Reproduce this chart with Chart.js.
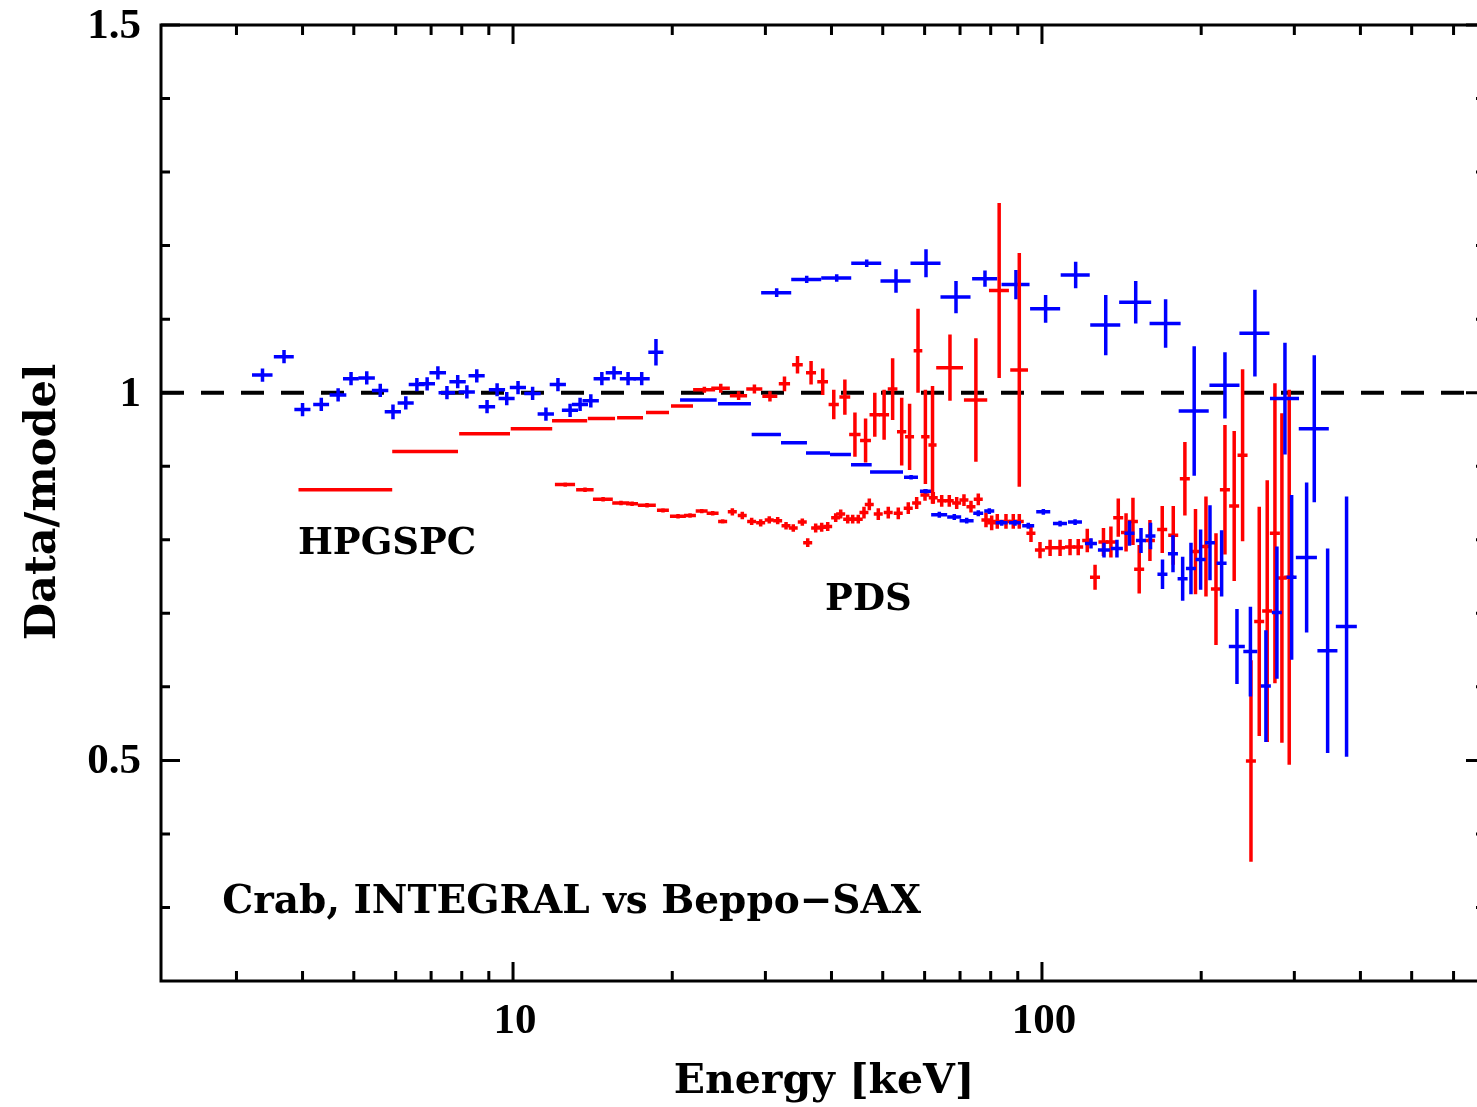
<!DOCTYPE html>
<html>
<head>
<meta charset="utf-8">
<script src="https://cdn.jsdelivr.net/npm/chart.js@4.4.1/dist/chart.umd.min.js"></script>
<style>
  html, body { margin: 0; padding: 0; background: #fff; overflow: hidden; }
  #wrap { position: relative; width: 1495px; height: 1107px; }
</style>
</head>
<body>
<div id="wrap"><canvas id="grafico"></canvas></div>
<script>
// JEM-X (blue crosses, 3-20 keV)
const jemxE   = [3.36, 3.69, 4.00, 4.34, 4.67, 4.94, 5.29, 5.61, 5.93, 6.27, 6.58, 6.88, 7.21, 7.50, 7.86, 8.18,
                 8.54, 8.93, 9.33, 9.73, 10.22, 10.89, 11.54, 12.16, 12.82, 13.39, 14.03, 14.72, 15.52, 16.50, 17.51, 18.63];
const jemxdE  = [0.15, 0.16, 0.14, 0.15, 0.17, 0.17, 0.19, 0.20, 0.21, 0.22, 0.23, 0.24, 0.26, 0.27, 0.28, 0.29,
                 0.30, 0.32, 0.33, 0.34, 0.36, 0.39, 0.41, 0.43, 0.45, 0.47, 0.50, 0.52, 0.55, 0.58, 0.62, 0.61];
const jemxR   = [1.024, 1.049, 0.977, 0.984, 0.997, 1.019, 1.020, 1.003, 0.974, 0.986, 1.011, 1.012, 1.027, 1.000, 1.015, 1.001,
                 1.023, 0.981, 1.004, 0.992, 1.007, 0.999, 0.971, 1.011, 0.976, 0.984, 0.989, 1.019, 1.027, 1.019, 1.019, 1.055];
const jemxErr = [0.009, 0.009, 0.009, 0.009, 0.009, 0.009, 0.009, 0.009, 0.010, 0.009, 0.009, 0.009, 0.009, 0.009, 0.009, 0.009,
                 0.009, 0.009, 0.009, 0.009, 0.009, 0.009, 0.009, 0.009, 0.009, 0.009, 0.009, 0.009, 0.009, 0.009, 0.009, 0.018];

// HPGSPC (red, 4-95 keV)
const hpgE   = [4.92, 6.89, 8.89, 10.88, 12.83, 14.72, 16.67, 18.78, 20.89, 23.0, 24.7, 26.7, 28.6, 30.6, 32.6, 34.5, 36.6,
                38.5, 40.4, 42.4, 44.3, 46.4, 48.3, 50.3, 52.2, 54.3, 56.2, 58.3, 60.2, 62.1, 67.0, 75.0, 83.0, 90.6];
const hpgdE  = [0.99, 0.98, 0.98, 0.98, 0.98, 0.87, 0.94, 0.94, 1.0, 1.1, 1.0, 1.0, 1.0, 1.0, 0.8, 0.8, 0.8,
                0.9, 0.9, 1.0, 1.1, 1.1, 1.1, 1.1, 1.1, 1.1, 1.1, 1.1, 1.1, 1.1, 3.9, 3.8, 3.6, 3.5];
const hpgR   = [0.868, 0.920, 0.944, 0.951, 0.962, 0.965, 0.966, 0.973, 0.982, 1.004, 1.006, 0.996, 1.005, 0.995, 1.012, 1.038, 1.027,
                1.015, 0.984, 0.994, 0.943, 0.935, 0.970, 0.970, 1.005, 0.947, 0.940, 1.057, 0.940, 0.929, 1.034, 0.990, 1.139, 1.031];
const hpgErr = [0.002, 0.001, 0.001, 0.001, 0.001, 0.002, 0.002, 0.002, 0.002, 0.004, 0.006, 0.006, 0.006, 0.007, 0.010, 0.012, 0.016,
                0.018, 0.020, 0.024, 0.030, 0.030, 0.030, 0.034, 0.042, 0.046, 0.045, 0.057, 0.064, 0.080, 0.045, 0.084, 0.119, 0.159];

// PDS (red, 12-300 keV)
const pdsE   = [12.55, 13.68, 14.80, 16.00, 16.79, 17.92, 19.21, 20.51, 21.61, 22.74,
                23.85, 24.91, 25.98, 27.13, 28.26, 29.39, 30.51, 31.65, 32.82, 33.87,
                35.23, 36.07, 37.34, 38.33, 39.35, 40.74, 41.64, 42.93, 43.87, 44.95,
                46.08, 47.16, 49.04, 51.22, 53.50, 55.88, 57.96, 60.10, 62.31, 64.63,
                66.80, 68.99, 71.21, 73.42, 75.79, 78.37, 80.34, 82.32, 85.50, 88.26,
                90.60, 95.33, 99.14, 103.6, 108.2, 113.0, 117.1, 121.8, 126.0, 130.7,
                135.0, 139.4, 144.2, 148.6, 152.7, 160.0, 168.8, 177.1, 186.3, 195.1,
                204.2, 213.3, 221.8, 230.9, 239.5, 248.4, 257.5, 266.6, 275.7, 284.2, 293.4];
const pdsdE  = [0.55, 0.52, 0.64, 0.60, 0.44, 0.70, 0.50, 0.71, 0.56, 0.59,
                0.62, 0.49, 0.51, 0.53, 0.55, 0.58, 0.60, 0.62, 0.64, 0.66,
                0.69, 0.71, 0.73, 0.75, 0.77, 0.80, 0.82, 0.84, 0.86, 0.88,
                0.90, 0.92, 0.96, 1.00, 1.05, 1.10, 1.14, 1.18, 1.22, 1.27,
                1.31, 1.35, 1.40, 1.44, 1.49, 1.54, 1.57, 1.61, 1.68, 1.73,
                1.78, 1.87, 2.16, 2.26, 2.36, 2.46, 2.55, 2.66, 2.75, 2.85,
                2.94, 3.04, 3.14, 3.24, 3.33, 3.49, 3.68, 3.86, 4.06, 4.25,
                4.45, 4.65, 4.84, 5.03, 5.22, 5.42, 5.61, 5.81, 6.01, 6.20, 6.40];
const pdsR   = [0.875, 0.868, 0.855, 0.850, 0.849, 0.847, 0.840, 0.832, 0.833, 0.839,
                0.836, 0.825, 0.838, 0.833, 0.825, 0.823, 0.827, 0.826, 0.819, 0.816,
                0.824, 0.796, 0.816, 0.817, 0.818, 0.830, 0.835, 0.828, 0.828, 0.828,
                0.837, 0.848, 0.835, 0.837, 0.836, 0.843, 0.850, 0.861, 0.857, 0.853,
                0.853, 0.850, 0.854, 0.845, 0.855, 0.827, 0.823, 0.825, 0.825, 0.825,
                0.825, 0.809, 0.786, 0.789, 0.789, 0.790, 0.790, 0.799, 0.749, 0.797,
                0.797, 0.830, 0.810, 0.825, 0.760, 0.799, 0.814, 0.806, 0.883, 0.784,
                0.791, 0.733, 0.868, 0.846, 0.915, 0.499, 0.689, 0.703, 0.809, 0.748, 0.749];
const pdsErr = [0.003, 0.003, 0.003, 0.003, 0.003, 0.003, 0.003, 0.003, 0.003, 0.003,
                0.003, 0.003, 0.005, 0.005, 0.005, 0.005, 0.005, 0.005, 0.005, 0.005,
                0.005, 0.006, 0.006, 0.006, 0.006, 0.006, 0.006, 0.006, 0.006, 0.006,
                0.008, 0.008, 0.008, 0.008, 0.008, 0.008, 0.008, 0.008, 0.008, 0.008,
                0.008, 0.008, 0.008, 0.008, 0.008, 0.010, 0.010, 0.010, 0.010, 0.010,
                0.010, 0.012, 0.011, 0.011, 0.011, 0.011, 0.011, 0.016, 0.017, 0.019,
                0.021, 0.026, 0.026, 0.032, 0.033, 0.028, 0.032, 0.040, 0.050, 0.058,
                0.068, 0.076, 0.088, 0.102, 0.117, 0.137, 0.156, 0.178, 0.204, 0.224, 0.255];

// blue high points (30-330 keV)
const spiE   = [31.51, 35.91, 40.92, 46.63, 52.97, 60.36, 68.78, 78.03, 89.30, 101.6,
                115.8, 132.0, 150.4, 171.3, 194.0, 221.8, 252.7, 288.0, 327.2];
const spidE  = [2.06, 2.34, 2.67, 3.04, 3.46, 3.94, 4.49, 4.25, 5.44, 6.64,
                7.31, 8.62, 10.47, 11.56, 12.67, 14.48, 16.5, 18.18, 21.37];
const spiR   = [1.136, 1.154, 1.156, 1.176, 1.152, 1.176, 1.130, 1.155, 1.147, 1.114,
                1.160, 1.092, 1.123, 1.094, 0.975, 1.010, 1.081, 0.992, 0.951];
const spiErr = [0.006, 0.005, 0.005, 0.005, 0.016, 0.019, 0.022, 0.011, 0.020, 0.019,
                0.018, 0.041, 0.029, 0.033, 0.088, 0.045, 0.059, 0.076, 0.100];

// blue low points (20-380 keV)
const isgE   = [22.48, 26.29, 30.18, 34.03, 37.77, 41.64, 45.6, 50.96, 56.57, 60.33,
                63.96, 68.27, 72.06, 75.79, 79.51, 83.92, 88.92, 94.21, 100.6, 108.2,
                115.5, 123.8, 131.0, 138.6, 146.4, 153.9, 160.4, 169.0, 176.9, 184.5,
                191.3, 199.5, 207.8, 218.6, 233.7, 247.8, 265.1, 278.1, 296.5, 316.5, 346.8, 376.6];
const isgdE  = [1.79, 1.88, 1.92, 1.92, 1.97, 1.9, 2.05, 3.65, 1.72, 1.54,
                2.23, 2.08, 2.2, 1.65, 1.73, 2.19, 2.32, 2.46, 3.07, 3.3,
                3.52, 3.23, 3.42, 3.62, 3.19, 3.35, 3.49, 3.68, 3.85, 4.02,
                4.16, 4.34, 4.52, 4.76, 8.14, 7.55, 5.77, 6.05, 6.45, 14.5, 15.1, 17.2];
const isgR   = [0.990, 0.985, 0.943, 0.932, 0.918, 0.916, 0.902, 0.892, 0.885, 0.866,
                0.834, 0.831, 0.826, 0.836, 0.839, 0.823, 0.823, 0.819, 0.838, 0.822,
                0.824, 0.795, 0.786, 0.788, 0.809, 0.799, 0.805, 0.753, 0.781, 0.747,
                0.761, 0.773, 0.796, 0.768, 0.655, 0.648, 0.601, 0.701, 0.749, 0.776, 0.649, 0.682];
const isgErr = [0.002, 0.002, 0.002, 0.002, 0.002, 0.002, 0.002, 0.002, 0.003, 0.003,
                0.004, 0.004, 0.004, 0.004, 0.004, 0.004, 0.004, 0.004, 0.004, 0.004,
                0.004, 0.007, 0.010, 0.012, 0.017, 0.017, 0.018, 0.020, 0.025, 0.030,
                0.035, 0.041, 0.051, 0.045, 0.051, 0.061, 0.076, 0.090, 0.112, 0.102, 0.139, 0.177];

// axes
const xMin = 2.16, xMax = 688;
const yMin = 0.2, yMax = 1.5;
const xMajor = [10, 100];
const xMajorLabels = ['10', '100'];
const xMinor = [3, 4, 5, 6, 7, 8, 9, 20, 30, 40, 50, 60, 70, 80, 90, 200, 300, 400, 500, 600];
const yMajor = [0.5, 1, 1.5];
const yMajorLabels = ['0.5', '1', '1.5'];
const yMinor = [0.3, 0.4, 0.6, 0.7, 0.8, 0.9, 1.1, 1.2, 1.3, 1.4];

// text inside the plot, in data coordinates
const notes = [
    { text: 'HPGSPC', x: 3.92, y: 0.780, size: 37 },
    { text: 'PDS', x: 38.9, y: 0.705, size: 37 },
    { text: 'Crab, INTEGRAL vs Beppo\u2212SAX', x: 2.82, y: 0.2925, size: 39 }
];

const BLUE = '#0000ff', RED = '#ff0000';
const SERIF = '"DejaVu Serif", serif';
const NUMFONT = '"Liberation Serif", serif';

function pontos(e, r) {
    return e.map((v, i) => ({ x: v, y: r[i] }));
}

// cross-shaped error bars: x half width dE, y half height err
const barras = {
    id: 'barras',
    afterDatasetsDraw(chart) {
        let ctx = chart.ctx, xs = chart.scales.x, ys = chart.scales.y, a = chart.chartArea;
        ctx.save();
        ctx.beginPath();
        ctx.rect(a.left, a.top, a.right - a.left, a.bottom - a.top);
        ctx.clip();
        chart.data.datasets.forEach(ds => {
            if (!ds.err) return;
            ctx.strokeStyle = ds.borderColor;
            ctx.lineWidth = 3.5;
            ctx.lineCap = 'butt';
            ds.data.forEach((p, i) => {
                let xc = xs.getPixelForValue(p.x), yc = ys.getPixelForValue(p.y);
                ctx.beginPath();
                ctx.moveTo(xs.getPixelForValue(p.x - ds.dE[i]), yc);
                ctx.lineTo(xs.getPixelForValue(p.x + ds.dE[i]), yc);
                ctx.moveTo(xc, ys.getPixelForValue(p.y - ds.err[i]));
                ctx.lineTo(xc, ys.getPixelForValue(p.y + ds.err[i]));
                ctx.stroke();
            });
        });
        ctx.restore();
    }
};

// frame, inward ticks, labels and titles
const moldura = {
    id: 'moldura',
    afterDraw(chart) {
        let ctx = chart.ctx, xs = chart.scales.x, ys = chart.scales.y, a = chart.chartArea;
        ctx.save();
        ctx.strokeStyle = '#000';
        ctx.lineWidth = 3;
        ctx.strokeRect(a.left, a.top, a.right - a.left, a.bottom - a.top);

        ctx.beginPath();
        xMajor.concat(xMinor).forEach(v => {
            let len = xMajor.includes(v) ? 19 : 10;
            let px = xs.getPixelForValue(v);
            ctx.moveTo(px, a.bottom); ctx.lineTo(px, a.bottom - len);
            ctx.moveTo(px, a.top); ctx.lineTo(px, a.top + len);
        });
        yMajor.concat(yMinor).forEach(v => {
            let len = yMajor.includes(v) ? 19 : 9;
            let py = ys.getPixelForValue(v);
            ctx.moveTo(a.left, py); ctx.lineTo(a.left + len, py);
            ctx.moveTo(a.right, py); ctx.lineTo(a.right - len, py);
        });
        ctx.stroke();

        ctx.fillStyle = '#000';
        ctx.font = 'bold 43px ' + NUMFONT;
        ctx.textAlign = 'center';
        ctx.textBaseline = 'alphabetic';
        xMajor.forEach((v, i) => {
            ctx.fillText(xMajorLabels[i], xs.getPixelForValue(v) + 2, a.bottom + 52);
        });
        ctx.textAlign = 'right';
        ctx.textBaseline = 'middle';
        yMajor.forEach((v, i) => {
            ctx.fillText(yMajorLabels[i], a.left - 20, ys.getPixelForValue(v) + 2);
        });

        ctx.textAlign = 'center';
        ctx.textBaseline = 'alphabetic';
        ctx.font = 'bold 41px ' + SERIF;
        ctx.fillText('Energy [keV]', (a.left + 1485) / 2 + 1, 1093);

        ctx.save();
        ctx.font = 'bold 43px ' + SERIF;
        ctx.translate(55, 502);
        ctx.rotate(-Math.PI / 2);
        ctx.fillText('Data/model', 0, 0);
        ctx.restore();

        ctx.textAlign = 'left';
        notes.forEach(n => {
            ctx.font = 'bold ' + n.size + 'px ' + SERIF;
            ctx.fillText(n.text, xs.getPixelForValue(n.x), ys.getPixelForValue(n.y));
        });
        ctx.restore();
    }
};

function serie(label, e, de, r, err, cor) {
    return {
        label: label,
        type: 'scatter',
        data: pontos(e, r),
        dE: de,
        err: err,
        borderColor: cor,
        backgroundColor: cor,
        pointRadius: 0
    };
}

let ctx = document.getElementById('grafico');

new Chart(ctx, {
    type: 'scatter',
    data: {
        datasets: [
            {
                label: 'unity',
                type: 'line',
                data: [{ x: xMin, y: 1 }, { x: xMax, y: 1 }],
                borderColor: '#000',
                borderWidth: 4,
                borderDash: [23, 17],
                pointRadius: 0,
                fill: false
            },
            serie('PDS', pdsE, pdsdE, pdsR, pdsErr, RED),
            serie('blue low', isgE, isgdE, isgR, isgErr, BLUE),
            serie('blue high', spiE, spidE, spiR, spiErr, BLUE),
            serie('HPGSPC', hpgE, hpgdE, hpgR, hpgErr, RED),
            serie('JEM-X', jemxE, jemxdE, jemxR, jemxErr, BLUE)
        ]
    },
    options: {
        responsive: true,
        maintainAspectRatio: false,
        animation: false,
        devicePixelRatio: 1,
        events: [],
        layout: { padding: { left: 161, top: 25, right: 10, bottom: 126 } },
        plugins: { legend: { display: false }, tooltip: { enabled: false } },
        scales: {
            x: { type: 'logarithmic', min: xMin, max: xMax, display: false },
            y: { type: 'linear', min: yMin, max: yMax, display: false }
        }
    },
    plugins: [barras, moldura]
});
</script>
</body>
</html>
